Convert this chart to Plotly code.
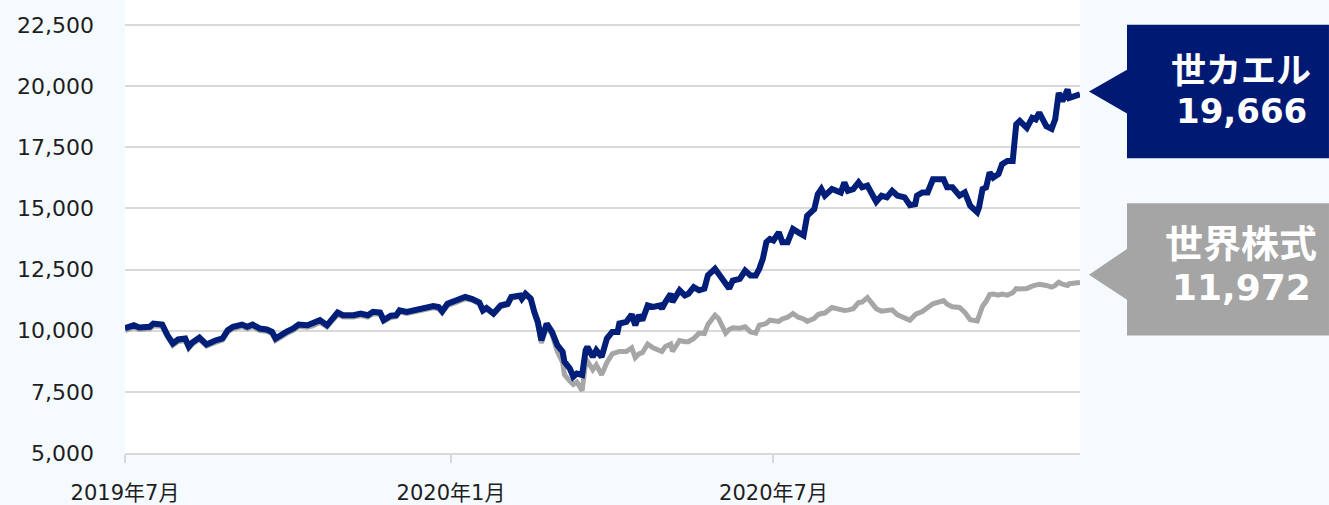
import plotly.graph_objects as go

dates = [
    "2019-07-01", "2019-07-06", "2019-07-09", "2019-07-15", "2019-07-17", "2019-07-22", "2019-07-25", "2019-07-28",
    "2019-07-31", "2019-08-04", "2019-08-06", "2019-08-08", "2019-08-12", "2019-08-16", "2019-08-21", "2019-08-25",
    "2019-08-28", "2019-08-31", "2019-09-05", "2019-09-08", "2019-09-11", "2019-09-15", "2019-09-19", "2019-09-22",
    "2019-09-24", "2019-09-26", "2019-09-30", "2019-10-04", "2019-10-07", "2019-10-12", "2019-10-15", "2019-10-19",
    "2019-10-23", "2019-10-26", "2019-10-29", "2019-11-01", "2019-11-07", "2019-11-11", "2019-11-15", "2019-11-18",
    "2019-11-22", "2019-11-24", "2019-11-28", "2019-12-01", "2019-12-03", "2019-12-07", "2019-12-11", "2019-12-14",
    "2019-12-18", "2019-12-22", "2019-12-25", "2019-12-27", "2019-12-30", "2020-01-04", "2020-01-09", "2020-01-13",
    "2020-01-17", "2020-01-19", "2020-01-21", "2020-01-25", "2020-01-29", "2020-02-02", "2020-02-04", "2020-02-09",
    "2020-02-10", "2020-02-12", "2020-02-15", "2020-02-17", "2020-02-19", "2020-02-21", "2020-02-24", "2020-02-27",
    "2020-03-01", "2020-03-04", "2020-03-05", "2020-03-08", "2020-03-10", "2020-03-12", "2020-03-15", "2020-03-17",
    "2020-03-18", "2020-03-21", "2020-03-23", "2020-03-26", "2020-03-29", "2020-04-01", "2020-04-04", "2020-04-05",
    "2020-04-09", "2020-04-12", "2020-04-14", "2020-04-16", "2020-04-18", "2020-04-21", "2020-04-24", "2020-04-28",
    "2020-04-29", "2020-05-01", "2020-05-04", "2020-05-05", "2020-05-09", "2020-05-12", "2020-05-14", "2020-05-17",
    "2020-05-20", "2020-05-23", "2020-05-25", "2020-05-29", "2020-05-31", "2020-06-04", "2020-06-06", "2020-06-08",
    "2020-06-12", "2020-06-15", "2020-06-18", "2020-06-21", "2020-06-23", "2020-06-25", "2020-06-27", "2020-06-29",
    "2020-07-01", "2020-07-04", "2020-07-06", "2020-07-09", "2020-07-12", "2020-07-15", "2020-07-18", "2020-07-20",
    "2020-07-24", "2020-07-26", "2020-07-28", "2020-07-30", "2020-08-03", "2020-08-08", "2020-08-10", "2020-08-12",
    "2020-08-15", "2020-08-18", "2020-08-20", "2020-08-23", "2020-08-26", "2020-08-28", "2020-08-31", "2020-09-03",
    "2020-09-06", "2020-09-09", "2020-09-13", "2020-09-16", "2020-09-19", "2020-09-20", "2020-09-23", "2020-09-26",
    "2020-09-29", "2020-10-05", "2020-10-07", "2020-10-10", "2020-10-14", "2020-10-17", "2020-10-20", "2020-10-24",
    "2020-10-25", "2020-10-27", "2020-10-29", "2020-10-31", "2020-11-02", "2020-11-05", "2020-11-07", "2020-11-10",
    "2020-11-13", "2020-11-15", "2020-11-17", "2020-11-21", "2020-11-24", "2020-11-26", "2020-11-28", "2020-12-02",
    "2020-12-05", "2020-12-07", "2020-12-09", "2020-12-11", "2020-12-14", "2020-12-15", "2020-12-18", "2020-12-21",
]

sekaeru = [
    10100, 10220, 10130, 10160, 10290, 10250, 9810, 9480,
    9640, 9680, 9355, 9520, 9720, 9440, 9600, 9680,
    10020, 10160, 10250, 10160, 10250, 10090, 10050, 9950,
    9680, 9790, 9950, 10090, 10250, 10220, 10290, 10430,
    10220, 10500, 10740, 10630, 10630, 10700, 10630, 10770,
    10740, 10430, 10610, 10630, 10830, 10770, 10830, 10880,
    10930, 11010, 10970, 10790, 11100, 11240, 11380, 11290,
    11150, 10830, 10930, 10700, 11030, 11100, 11380, 11440,
    11310, 11510, 11310, 10770, 10360, 9610, 10290, 9950,
    9410, 9140, 8730, 8460, 8120, 8250, 8190, 9200,
    9340, 8930, 9200, 8930, 9680, 9950, 9950, 10290,
    10360, 10660, 10220, 10630, 10430, 11030, 10970, 11030,
    10900, 11170, 11510, 11170, 11650, 11440, 11510, 11780,
    11650, 11720, 12260, 12530, 12330, 11850, 11720, 12050,
    12120, 12460, 12260, 12260, 12530, 12940, 13620, 13750,
    13690, 14020, 13620, 13620, 14160, 14020, 13890, 14700,
    14970, 15580, 15790, 15520, 15790, 15650, 16060, 15720,
    15790, 16060, 15860, 15930, 15520, 15270, 15520, 15450,
    15720, 15520, 15450, 15130, 15170, 15520, 15650, 15650,
    16190, 16190, 15860, 15860, 15520, 15650, 15110, 14840,
    15040, 15790, 15860, 16470, 16260, 16400, 16800, 16940,
    16940, 18430, 18570, 18290, 18700, 18640, 18910, 18360,
    18250, 18640, 19720, 19380, 19860, 19520, 19590, 19666,
]

world = [
    10000, 10130, 10050, 10080, 10200, 10180, 9750, 9400,
    9560, 9600, 9280, 9450, 9640, 9370, 9520, 9610,
    9950, 10080, 10170, 10080, 10160, 10010, 9980, 9870,
    9600, 9700, 9870, 10010, 10170, 10140, 10200, 10340,
    10150, 10420, 10650, 10560, 10560, 10620, 10560, 10690,
    10670, 10380, 10540, 10570, 10760, 10700, 10760, 10810,
    10860, 10940, 10900, 10730, 11020, 11170, 11300, 11240,
    11100, 10800, 10880, 10670, 10980, 11060, 11320, 11400,
    11280, 11450, 11260, 10700, 10250, 9500, 10150, 9850,
    9150, 8700, 8200, 7950, 7800, 7900, 7550, 8700,
    8750, 8400, 8600, 8200, 8700, 9050, 9100, 9150,
    9150, 9300, 8900, 9050, 9100, 9450, 9300, 9200,
    9150, 9350, 9450, 9150, 9600, 9550, 9550, 9680,
    9900, 9880, 10250, 10630, 10500, 9900, 10050, 10120,
    10100, 10160, 9950, 9900, 10220, 10250, 10300, 10430,
    10400, 10380, 10480, 10550, 10700, 10550, 10480, 10380,
    10500, 10650, 10700, 10720, 10950, 10850, 10830, 10840,
    10900, 11150, 11170, 11350, 11100, 10900, 10800, 10850,
    10850, 10650, 10500, 10430, 10650, 10700, 10780, 10950,
    11100, 11230, 11080, 10980, 10950, 10750, 10450, 10400,
    10650, 11000, 11200, 11480, 11500, 11450, 11500, 11450,
    11550, 11720, 11700, 11720, 11820, 11850, 11900, 11850,
    11780, 11850, 11980, 11900, 11850, 11920, 11930, 11972,
]

y_tick_vals = [5000, 7500, 10000, 12500, 15000, 17500, 20000, 22500]
y_tick_text = ["5,000", "7,500", "10,000", "12,500", "15,000", "17,500", "20,000", "22,500"]
x_tick_vals = ["2019-07-01", "2020-01-01", "2020-07-01"]
x_tick_text = ["2019年7月", "2020年1月", "2020年7月"]

series_names = ["世カエル", "世界株式"]
end_labels = ["19,666", "11,972"]

BLUE = "#011E78"
GRAY = "#A6A6A6"
BG = "#F5FAFE"
TXT = "#1E1E1E"

fig = go.Figure()
fig.add_trace(go.Scatter(x=dates, y=world, mode="lines", name=series_names[1],
                         line=dict(color=GRAY, width=5), hoverinfo="skip"))
fig.add_trace(go.Scatter(x=dates, y=sekaeru, mode="lines", name=series_names[0],
                         line=dict(color=BLUE, width=6), hoverinfo="skip"))

# plot geometry (pixels): left 125, right 1080, top 0, bottom 455
W, H = 1329, 505
L, R, T, B = 125, 1080, 0, 455
pw, ph = R - L, B - T


def px(x):
    return (x - L) / pw


def py(y):
    return (B - y) / ph


def box_path(x0, x1, y0, y1, tipx, tipy, b0, b1):
    pts = [(x0, y0), (x1, y0), (x1, y1), (x0, y1), (x0, b1), (tipx, tipy), (x0, b0)]
    return "M " + " L ".join(f"{px(a):.4f},{py(b):.4f}" for a, b in pts) + " Z"


shapes = [
    dict(type="path", xref="paper", yref="paper",
         path=box_path(1127, 1329, 25, 159, 1089, 92, 70, 114),
         fillcolor="#001A73", line=dict(width=0), layer="above"),
    dict(type="path", xref="paper", yref="paper",
         path=box_path(1127, 1329, 204, 337, 1089, 276, 250, 301),
         fillcolor="#A5A5A5", line=dict(width=0), layer="above"),
]

annotations = [
    dict(x=px(1241), y=py(68), xref="paper", yref="paper", text=f"<b>{series_names[0]}</b>",
         showarrow=False, font=dict(family="Noto Sans CJK JP", size=35, color="white"),
         xanchor="center", yanchor="middle"),
    dict(x=px(1241), y=py(111), xref="paper", yref="paper", text=f"<b>{end_labels[0]}</b>",
         showarrow=False, font=dict(family="DejaVu Sans", size=34, color="white"),
         xanchor="center", yanchor="middle"),
    dict(x=px(1241), y=py(242), xref="paper", yref="paper", text=f"<b>{series_names[1]}</b>",
         showarrow=False, font=dict(family="Noto Sans CJK JP", size=38, color="white"),
         xanchor="center", yanchor="middle"),
    dict(x=px(1241), y=py(289), xref="paper", yref="paper", text=f"<b>{end_labels[1]}</b>",
         showarrow=False, font=dict(family="DejaVu Sans", size=36, color="white"),
         xanchor="center", yanchor="middle"),
]

fig.update_layout(
    width=W, height=H,
    margin=dict(l=L, r=W - R, t=T, b=H - B, pad=0),
    paper_bgcolor=BG, plot_bgcolor="white",
    showlegend=False,
    shapes=shapes, annotations=annotations,
    font=dict(family="DejaVu Sans", size=22, color=TXT),
)

fig.update_xaxes(
    type="date", range=["2019-07-01", "2020-12-21"],
    tickvals=x_tick_vals, ticktext=x_tick_text,
    showgrid=False, showline=True, linecolor="#D9D9D9", linewidth=2,
    ticks="outside", ticklen=8, tickwidth=2, tickcolor="#D9D9D9",
    ticklabelstandoff=12,
    tickfont=dict(family="DejaVu Sans, Noto Sans CJK JP", size=21, color=TXT),
    zeroline=False,
)
fig.update_yaxes(
    range=[5000, 23518],
    tickvals=y_tick_vals, ticktext=y_tick_text,
    showgrid=True, gridcolor="#D9D9D9", gridwidth=2,
    showline=False, zeroline=False, ticks="",
    ticklabelstandoff=30,
    tickfont=dict(family="DejaVu Sans", size=22, color=TXT),
)

fig.write_html(
    "out.html",
    config={"displayModeBar": False},
    post_script="document.body.style.margin='0';document.body.style.overflow='hidden';document.body.style.background='" + BG + "';",
)
